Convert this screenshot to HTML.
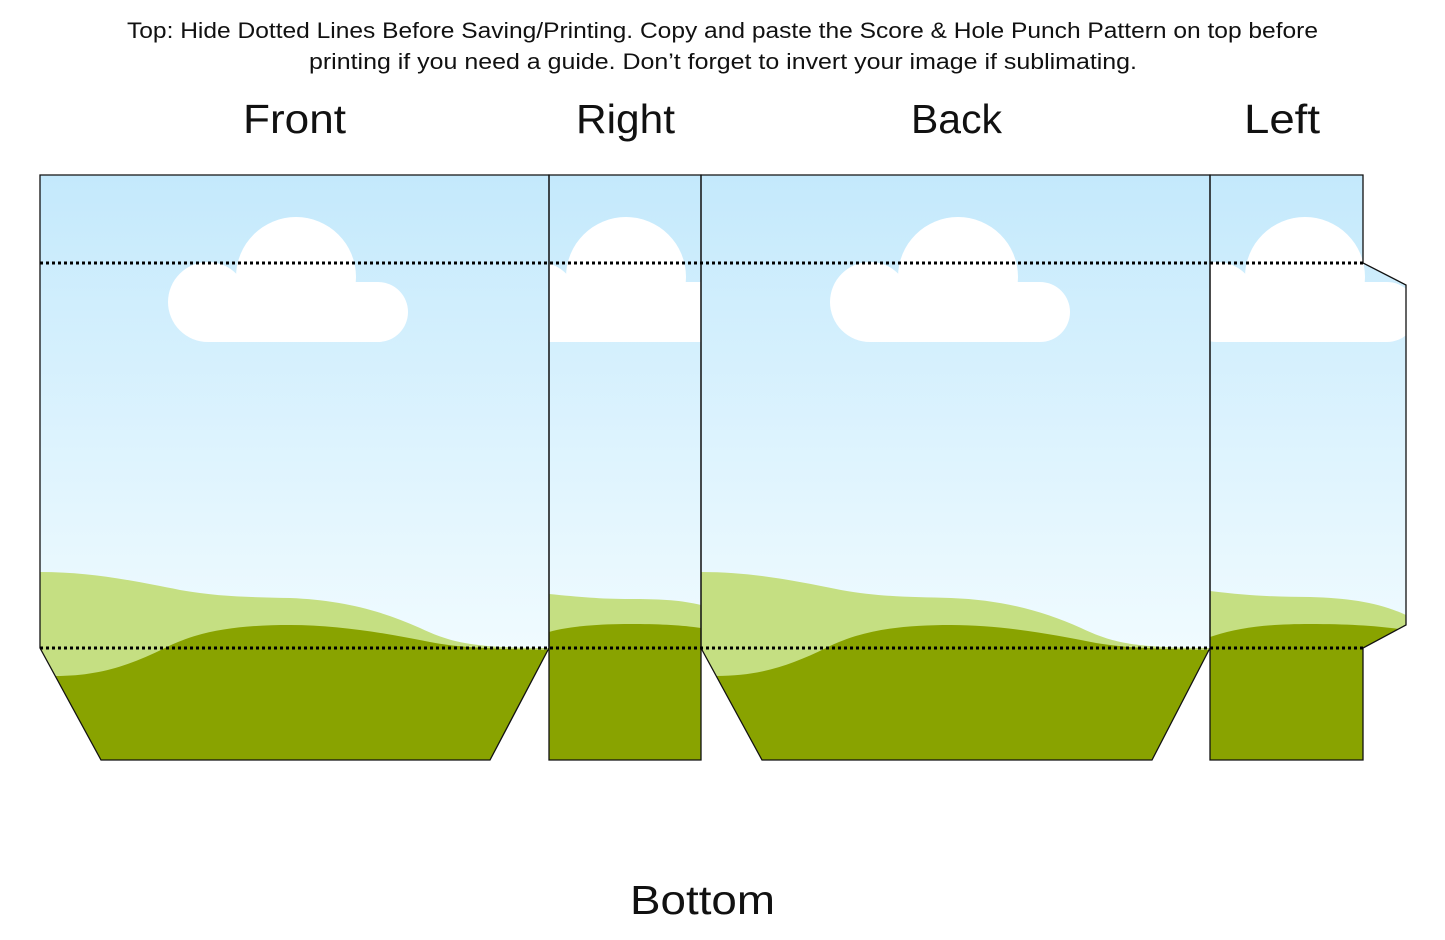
<!DOCTYPE html>
<html><head><meta charset="utf-8"><style>
html,body{margin:0;padding:0;background:#fff}
body{width:1445px;height:935px;overflow:hidden;position:relative;font-family:"Liberation Sans",sans-serif}
</style></head><body>
<svg width="1445" height="935" viewBox="0 0 1445 935" xmlns="http://www.w3.org/2000/svg">
<defs>
<linearGradient id="sky" x1="0" y1="175" x2="0" y2="648" gradientUnits="userSpaceOnUse">
<stop offset="0" stop-color="#c4e9fc"/><stop offset="1" stop-color="#f0fbff"/></linearGradient>
<clipPath id="cF"><polygon points="40,175 549,175 549,648 490,760 101,760 40,648"/></clipPath>
<clipPath id="cR"><polygon points="549,175 701,175 701,760 549,760"/></clipPath>
<clipPath id="cB"><polygon points="701,175 1210,175 1210,648 1152,760 762,760 701,648"/></clipPath>
<clipPath id="cL"><polygon points="1210,175 1363,175 1363,263 1406,285 1406,625 1363,648 1363,760 1210,760"/></clipPath>
<g id="cloud" fill="#fff">
<circle cx="296" cy="277" r="60"/><circle cx="378" cy="312" r="30"/><circle cx="208" cy="302" r="40"/>
<rect x="208" y="282" width="170" height="60"/></g>
<g id="hills">
<path fill="#c5df82" d="M40,572 C90,572 130,580 180,590 C220,597 250,597 290,598 C340,600 380,610 420,628 C450,642 470,648 549,648 L549,760 L40,760Z"/>
<path fill="#89a300" d="M55,676 C100,676 130,665 165,648 C200,630 240,625 290,625 C340,625 390,634 430,642 C460,648 500,649 549,650 L549,760 L40,760 L40,676Z"/>
</g>
</defs>
<g clip-path="url(#cF)">
<rect x="0" y="175" width="1445" height="600" fill="url(#sky)"/>
<use href="#cloud"/><use href="#hills"/>
</g>
<g clip-path="url(#cR)">
<rect x="0" y="175" width="1445" height="600" fill="url(#sky)"/>
<use href="#cloud" x="330"/>
<path fill="#c5df82" d="M549,594 C580,597 600,599 630,599 C660,599 680,600 701,605 L701,760 L549,760Z"/>
<path fill="#89a300" d="M549,632 C570,626 600,624 630,624 C660,624 680,625 701,628 L701,760 L549,760Z"/>
</g>
<g clip-path="url(#cB)">
<rect x="0" y="175" width="1445" height="600" fill="url(#sky)"/>
<use href="#cloud" x="662"/><use href="#hills" x="661"/>
</g>
<g clip-path="url(#cL)">
<rect x="0" y="175" width="1445" height="600" fill="url(#sky)"/>
<use href="#cloud" x="1009"/>
<path fill="#c5df82" d="M1210,591 C1250,596 1280,597 1310,597 C1350,598 1380,603 1406,615 L1406,760 L1210,760Z"/>
<path fill="#89a300" d="M1210,637 C1240,627 1270,624 1310,624 C1350,624 1380,626 1406,630 L1406,760 L1210,760Z"/>
</g>
<g fill="none" stroke="#111" stroke-width="1.3">
<polygon points="40,175 549,175 549,648 490,760 101,760 40,648"/>
<polygon points="549,175 701,175 701,760 549,760"/>
<polygon points="701,175 1210,175 1210,648 1152,760 762,760 701,648"/>
<polygon points="1210,175 1363,175 1363,263 1406,285 1406,625 1363,648 1363,760 1210,760"/>
</g>
<g stroke="#000" stroke-width="3" stroke-dasharray="3,3">
<line x1="40" y1="263" x2="1363" y2="263"/>
<line x1="40" y1="648" x2="1363" y2="648"/>
</g>
<g font-family="Liberation Sans, sans-serif" fill="#111">
<text x="127" y="38" font-size="22" textLength="1191" lengthAdjust="spacingAndGlyphs">Top: Hide Dotted Lines Before Saving/Printing. Copy and paste the Score &amp; Hole Punch Pattern on top before</text>
<text x="309" y="69" font-size="22" textLength="828" lengthAdjust="spacingAndGlyphs">printing if you need a guide. Don’t forget to invert your image if sublimating.</text>
<text x="243" y="133" font-size="41" textLength="103" lengthAdjust="spacingAndGlyphs">Front</text>
<text x="576" y="133" font-size="41" textLength="99" lengthAdjust="spacingAndGlyphs">Right</text>
<text x="911" y="133" font-size="41" textLength="91" lengthAdjust="spacingAndGlyphs">Back</text>
<text x="1244" y="133" font-size="41" textLength="76" lengthAdjust="spacingAndGlyphs">Left</text>
<text x="630" y="914" font-size="41" textLength="145" lengthAdjust="spacingAndGlyphs">Bottom</text>
</g>
</svg>
</body></html>
